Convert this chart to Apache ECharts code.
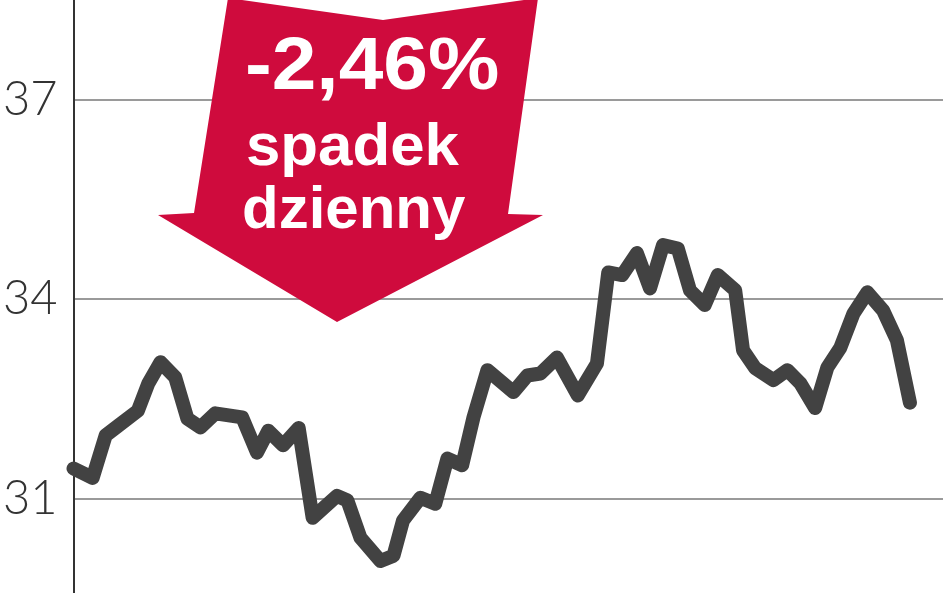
<!DOCTYPE html>
<html>
<head>
<meta charset="utf-8">
<script src="https://cdn.jsdelivr.net/npm/echarts@6/dist/echarts.min.js"></script>
<style>
html,body{margin:0;padding:0;background:#fff;overflow:hidden;width:948px;height:593px}
#wrap{position:relative;width:948px;height:593px;overflow:hidden}
#c{position:absolute;left:0;top:-100px;width:948px;height:798px}
</style>
</head>
<body>
<div id="wrap"><div id="c"></div></div>
<script>
// time position (share of the period, %) and price
var days = [0, 2.2, 3.7, 5.2, 7.4, 8.6, 10.0, 11.7, 13.1, 14.6, 16.3, 19.4, 21.1, 22.4, 24.1, 25.9,
  27.5, 30.3, 31.5, 33.0, 35.3, 36.8, 37.9, 39.9, 41.6, 43.0, 44.7, 46.0, 47.6, 50.6, 52.2, 53.7,
  55.6, 58.0, 60.2, 61.5, 63.1, 64.8, 66.3, 67.8, 69.5, 70.9, 72.6, 74.1, 76.1, 77.0, 78.4, 80.5,
  82.1, 83.6, 85.3, 86.7, 88.2, 89.7, 91.3, 93.1, 94.7, 96.2];
var prices = [31.45, 31.31, 31.95, 32.10, 32.32, 32.73, 33.05, 32.82, 32.20, 32.07, 32.28, 32.22, 31.69, 32.02, 31.80, 32.06,
  30.71, 31.04, 30.97, 30.41, 30.06, 30.14, 30.67, 31.01, 30.92, 31.60, 31.50, 32.22, 32.93, 32.60, 32.85, 32.88,
  33.12, 32.55, 33.03, 34.40, 34.36, 34.69, 34.16, 34.81, 34.76, 34.13, 33.91, 34.36, 34.13, 33.23, 32.96, 32.78,
  32.93, 32.73, 32.36, 32.97, 33.27, 33.78, 34.10, 33.83, 33.38, 32.44];
var yTicks = [31, 34, 37];
var badgeLines = ['-2,46%', 'spadek', 'dzienny'];

var OFF = 100; // the chart canvas starts 100px above the visible page
var chart = echarts.init(document.getElementById('c'));
var data = days.map(function (d, i) { return [d, prices[i]]; });
chart.setOption({
  animation: false,
  grid: { left: 73, right: 5, top: 0, bottom: 0 },
  xAxis: { type: 'value', min: 0, max: 100, show: false },
  yAxis: {
    type: 'value', min: 28, max: 40, interval: 3,
    axisLine: { show: true, lineStyle: { color: '#333', width: 2 } },
    axisTick: { show: false },
    splitLine: { lineStyle: { color: '#9a9a9a', width: 2 } },
    axisLabel: {
      margin: 16, fontSize: 47, color: '#333', fontFamily: 'Lato', fontWeight: 300,
      formatter: function (v) { return yTicks.indexOf(v) >= 0 ? String(v) : ''; }
    }
  },
  series: [{
    type: 'line', data: data, symbol: 'none', smooth: false,
    lineStyle: { color: '#424242', width: 14, cap: 'round', join: 'round' },
    z: 3
  }],
  graphic: [
    {
      type: 'polygon', z: 10,
      shape: { points: [[228, OFF - 2], [383, OFF + 20], [538, OFF - 2], [508, OFF + 214], [543, OFF + 215], [337, OFF + 322], [158, OFF + 215], [194, OFF + 213]] },
      style: { fill: '#cf0b3d' }
    },
    { type: 'text', z: 11, x: 245, y: OFF + 31, scaleX: 1.07, style: { text: badgeLines[0], fill: '#fff', font: 'bold 75px "Liberation Sans"' } },
    { type: 'text', z: 11, x: 246, y: OFF + 118, scaleX: 1.03, style: { text: badgeLines[1], fill: '#fff', font: 'bold 60px "Liberation Sans"' } },
    { type: 'text', z: 11, x: 242, y: OFF + 181, style: { text: badgeLines[2], fill: '#fff', font: 'bold 60px "Liberation Sans"' } }
  ]
});
</script>
</body>
</html>
